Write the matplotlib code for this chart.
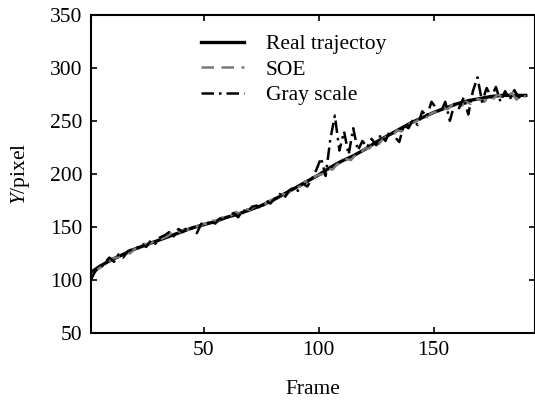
import matplotlib
matplotlib.use("Agg")
import matplotlib.pyplot as plt

# real trajectory, every 5 frames
real_frames = [1, 5, 10, 15, 20, 25, 30, 35, 40, 45, 50, 55, 60, 65, 70, 75, 80, 85, 90, 95,
               100, 105, 110, 115, 120, 125, 130, 135, 140, 145, 150, 155, 160, 165, 170,
               175, 180, 185, 190]
real_y = [107, 113, 119, 124, 129, 133, 137, 141, 145, 149, 152, 155, 159, 162, 166, 170,
          175, 181, 187, 193, 199, 206, 212, 217, 223, 230, 236, 242, 248, 253, 258, 262,
          266, 269, 271, 273, 274, 274, 274]

# SOE estimate, even frames
soe_frames = list(range(2, 191, 2))
soe_y = [106, 110, 113, 115, 120, 121, 122, 126, 125, 129, 130, 134, 133, 136, 138, 139,
         141, 144, 143, 146, 148, 147, 151, 150, 153,
         152, 156, 155, 159, 158, 161, 164, 162, 167, 166, 169, 171, 170, 174, 176, 177,
         181, 180, 185, 187, 188, 193, 192, 197, 199,
         200, 205, 204, 209, 210, 214, 213, 218, 219, 224, 224, 229, 228, 233, 236, 236,
         241, 240, 245, 248, 249, 252, 251, 256, 258,
         259, 262, 261, 265, 266, 264, 268, 266, 271, 270, 268, 273, 271, 275, 272, 274,
         276, 270, 274, 273]

# gray scale estimate, odd frames
gray_frames = list(range(1, 190, 2))
gray_y = [100, 109, 111, 116, 121, 117, 124, 121, 127, 129, 130, 134, 131, 137, 134, 140,
          142, 145, 141, 148, 145, 150, 148, 144, 153,
          152, 156, 153, 158, 156, 161, 163, 159, 166, 164, 169, 170, 167, 175, 172, 177,
          181, 177, 184, 187, 184, 191, 188, 195, 204,
          215, 198, 232, 255, 222, 240, 218, 243, 222, 231, 225, 233, 227, 237, 231, 241,
          235, 230, 246, 243, 251, 246, 259, 254, 268,
          262, 258, 268, 250, 266, 262, 272, 256, 278, 291, 268, 281, 272, 282, 268, 278,
          270, 279, 272, 276]

plt.rcParams['font.family'] = ['Liberation Serif', 'DejaVu Serif']
plt.rcParams['mathtext.fontset'] = 'custom'
plt.rcParams['mathtext.it'] = 'Liberation Serif:italic'
plt.rcParams['mathtext.rm'] = 'Liberation Serif'

fig = plt.figure(figsize=(5.35, 4.01), dpi=100)
ax = fig.add_axes([0.170, 0.170, 0.830, 0.793])

ax.plot(real_frames, real_y, color='black', lw=2.4, label='Real trajectoy')
ax.plot(soe_frames, soe_y, color='#7a7a7a', lw=1.8, ls=(0, (5, 3)), label='SOE')
ax.plot(gray_frames, gray_y, color='black', lw=1.8, ls=(0, (5, 2, 1, 2)), label='Gray scale')

ax.set_xlim(1, 194)
ax.set_ylim(50, 350)
ax.set_xticks([50, 100, 150])
ax.set_yticks([50, 100, 150, 200, 250, 300, 350])
ax.tick_params(direction='in', top=True, right=True, length=4, width=1.2,
               labelsize=15.5, pad=6)
for s in ax.spines.values():
    s.set_linewidth(1.5)

ax.set_xlabel('Frame', fontsize=15.5, labelpad=14)
ax.set_ylabel('$Y$/pixel', fontsize=15.5, labelpad=13)

ax.legend(loc='upper left', bbox_to_anchor=(0.205, 1.0), frameon=False, fontsize=15.5,
          handlelength=2.0, handletextpad=1.0, labelspacing=0.25)

fig.savefig('out.png', dpi=100)
